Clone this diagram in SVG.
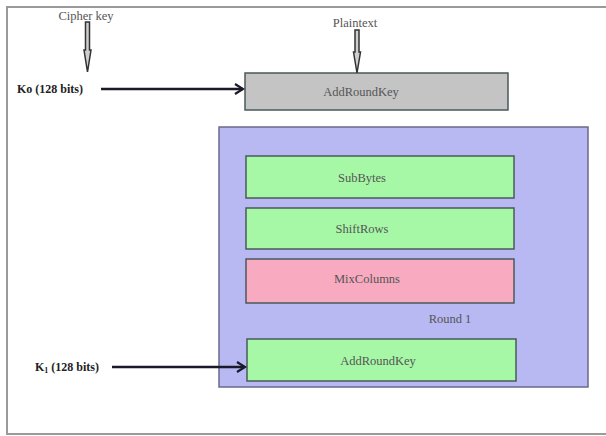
<svg xmlns="http://www.w3.org/2000/svg" width="606" height="436" viewBox="0 0 606 436">
<defs>
<marker id="ah" markerWidth="12" markerHeight="12" refX="10" refY="6" orient="auto" markerUnits="userSpaceOnUse">
<path d="M2,1 L10,6 L2,11" fill="none" stroke="#1a1a2a" stroke-width="2.2"/>
</marker>
</defs>
<style>
.lbl{font-family:"Liberation Serif","DejaVu Serif",serif;font-size:12.5px;fill:#555;text-anchor:middle}
.key{font-family:"Liberation Serif","DejaVu Serif",serif;font-size:12px;font-weight:bold;fill:#222}
.sub{font-size:8px}
.box{stroke:#4a5a5a;stroke-width:1.5}
.conn{stroke:#1a1a2a;stroke-width:2.5;fill:none}
.blk{fill:#cfcfcf;stroke:#333;stroke-width:1.5}
</style>
<rect x="0" y="0" width="606" height="436" fill="#ffffff"/>
<g id="frame" fill="none" stroke="#9a9a9a" stroke-width="2">
<line x1="6" y1="7" x2="606" y2="7"/>
<line x1="7" y1="7" x2="7" y2="434"/>
<line x1="6" y1="434" x2="606" y2="434"/>
</g>
<g id="round1">
<rect x="219" y="127" width="369" height="260" fill="#b8b8f2" stroke="#6a6a8a" stroke-width="1.5"/>
<text class="lbl" x="450" y="323">Round 1</text>
</g>
<g id="addroundkey0">
<rect class="box" x="245" y="73" width="263" height="37" fill="#c4c4c4"/>
<text class="lbl" x="361" y="96">AddRoundKey</text>
</g>
<g id="subbytes">
<rect class="box" x="246" y="156" width="268" height="42" fill="#a6f8a6"/>
<text class="lbl" x="362" y="182">SubBytes</text>
</g>
<g id="shiftrows">
<rect class="box" x="246" y="208" width="268" height="41" fill="#a6f8a6"/>
<text class="lbl" x="362" y="233">ShiftRows</text>
</g>
<g id="mixcolumns">
<rect class="box" x="246" y="259" width="268" height="44" fill="#f8aac0"/>
<text class="lbl" x="367" y="283">MixColumns</text>
</g>
<g id="addroundkey1">
<rect class="box" x="247" y="339" width="269" height="42" fill="#a6f8a6"/>
<text class="lbl" x="378" y="365">AddRoundKey</text>
</g>
<g id="cipherkey">
<text class="lbl" x="86" y="20">Cipher key</text>
</g>
<g id="plaintext">
<text class="lbl" x="355" y="27">Plaintext</text>
</g>
<g id="k0">
<text class="key" x="17" y="93">Ko (128 bits)</text>
</g>
<g id="k1">
<text class="key" x="35" y="371">K<tspan class="sub" dy="2">1</tspan><tspan dy="-2"> (128 bits)</tspan></text>
</g>
<g id="connectors">
<path class="blk" d="M85.5,22 L89.5,22 L89.5,50 L91,50 L87.5,72 L84,50 L85.5,50 Z"/>
<path class="blk" d="M355,30 L359,30 L359,52 L360.5,52 L357,73 L353.5,52 L355,52 Z"/>
<line class="conn" x1="101" y1="89" x2="243" y2="89" marker-end="url(#ah)"/>
<line class="conn" x1="112" y1="367" x2="245" y2="367" marker-end="url(#ah)"/>
</g>
</svg>
